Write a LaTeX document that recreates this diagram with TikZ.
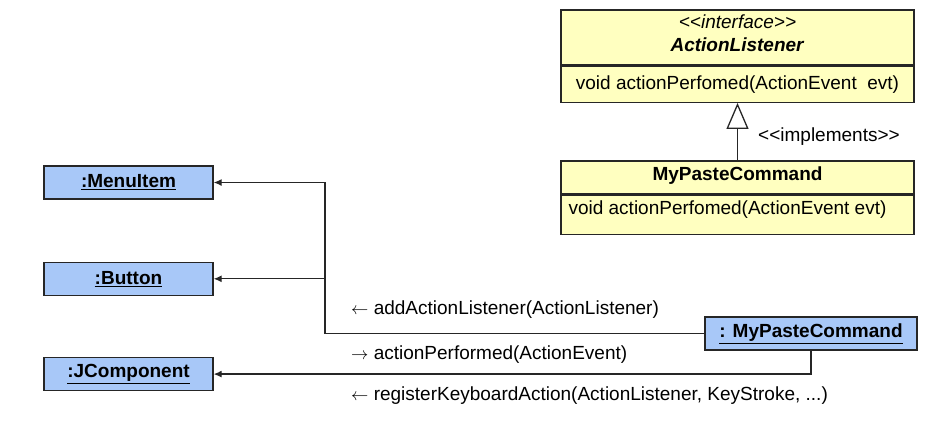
\documentclass[tikz,border=0pt]{standalone}
\usepackage{fontspec}
\setmainfont{Liberation Sans}
\usetikzlibrary{arrows.meta, positioning, calc}
\definecolor{objBlue}{HTML}{A8C8F8}
\definecolor{clsYellow}{HTML}{FFFFC0}
\definecolor{lineDark}{HTML}{262626}
\newcommand{\stereo}[1]{<\kern0pt<#1>\kern0pt>}

\begin{document}
\begin{tikzpicture}[x=1pt, y=-1pt,
    obj/.style={rectangle, fill=objBlue, draw=lineDark, line width=1.3pt,
      minimum width=169pt, minimum height=33pt, inner sep=0pt,
      font=\fontsize{19}{22}\selectfont\bfseries},
    comp/.style={rectangle, fill=clsYellow, draw=lineDark, line width=1.3pt,
      minimum width=353pt, inner sep=0pt, align=center,
      font=\fontsize{19}{23}\selectfont},
    txt/.style={font=\fontsize{19}{22}\selectfont, inner sep=0pt, anchor=west},
    conn/.style={-{Latex[length=8pt, width=7pt]}, line width=1.3pt, lineDark},
    impl/.style={-{Triangle[length=26pt, width=22pt, fill=white]}, line width=1.3pt, lineDark}]
    \useasboundingbox (0,0) rectangle (949,426);
    % interface
    \node[comp, minimum height=55pt] (ihead) at (737.5,37.5)
      {\textit{\stereo{interface}}\\\textbf{\textit{ActionListener}}\\[-15pt]};
    \node[comp, minimum height=36pt, below=0pt of ihead] (ibody)
      {void actionPerfomed(ActionEvent\ \ evt)};
    % implementing class
    \node[comp, minimum height=33pt, font=\fontsize{19}{22}\selectfont\bfseries]
      (chead) at (737.5,177.5) {MyPasteCommand\\[-14pt]};
    \node[comp, minimum height=39pt, below=0pt of chead] (cbody) {};
    \node[txt] (cop) at ($(cbody.west)+(8,-5)$) {void actionPerfomed(ActionEvent evt)};
    \draw[impl] (chead) -- (ibody);
    \node[txt] (timpl) at (758,137) {\stereo{implements}};
    % objects
    \node[obj] (menu) at (128.5,182.5) {\underline{:MenuItem}};
    \node[obj, below=62pt of menu] (button) {\underline{:Button}};
    \node[obj, below=61pt of button] (jcomp) {\underline{:JComponent}};
    \node[obj, minimum width=212pt] (paste) at (811,333.5) {\underline{: MyPasteCommand}};
    % links
    \coordinate (bus) at (325,0);
    \draw[conn] (paste.west) -| (bus |- menu.east) -- (menu.east);
    \draw[conn] (bus |- button.east) -- (button.east);
    \draw[conn] (paste.south) |- (jcomp.east);
    % messages
    \node[txt] (m1) at (351,310) {$\leftarrow$ addActionListener(ActionListener)};
    \node[txt] (m2) at (351,355) {$\rightarrow$ actionPerformed(ActionEvent)};
    \node[txt] (m3) at (351,396) {$\leftarrow$ registerKeyboardAction(ActionListener, KeyStroke, ...)};
\end{tikzpicture}
\end{document}
